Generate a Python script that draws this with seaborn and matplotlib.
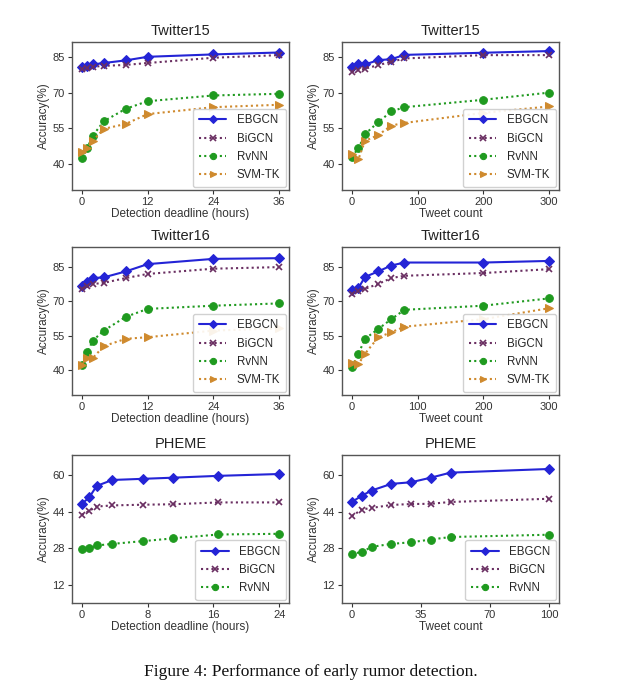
import matplotlib
matplotlib.use("Agg")
import matplotlib.pyplot as plt
import seaborn as sns

# ---------------- data ----------------
hours_tw = [0, 1, 2, 4, 8, 12, 24, 36]
count_tw = [0, 10, 20, 40, 60, 80, 200, 300]
hours_ph = [0, 0.9, 1.8, 3.7, 7.4, 11.1, 16.6, 24]
count_ph = [0, 5, 10, 20, 30, 40, 50, 100]

t15_time_ebgcn = [80.8, 81.2, 81.8, 82.4, 83.5, 85.0, 86.0, 86.8]
t15_time_bigcn = [80.0, 80.3, 80.8, 81.2, 81.6, 82.4, 84.6, 85.7]
t15_time_rvnn = [42.5, 46.8, 52.0, 58.0, 63.2, 66.4, 68.8, 69.5]
t15_time_svmtk = [45.0, 46.8, 49.8, 54.8, 56.9, 61.0, 63.9, 64.9]

t15_cnt_ebgcn = [80.8, 81.8, 81.8, 83.6, 84.0, 85.8, 86.7, 87.4]
t15_cnt_bigcn = [78.7, 79.4, 80.0, 81.5, 82.9, 84.3, 85.7, 85.7]
t15_cnt_rvnn = [43.1, 46.7, 52.6, 57.6, 62.1, 63.9, 67.0, 70.0]
t15_cnt_svmtk = [44.2, 42.1, 49.8, 52.2, 56.2, 57.3, 61.5, 64.2]

t16_time_ebgcn = [76.6, 78.5, 80.2, 80.5, 83.1, 86.3, 88.6, 88.9]
t16_time_bigcn = [75.6, 76.6, 77.6, 78.1, 80.2, 82.0, 84.3, 85.0]
t16_time_rvnn = [42.3, 47.8, 52.8, 57.2, 63.2, 66.7, 68.1, 69.1]
t16_time_svmtk = [42.3, 45.2, 45.2, 50.4, 53.6, 54.3, 57.2, 58.2]

t16_cnt_ebgcn = [74.8, 75.9, 80.7, 83.1, 85.7, 87.0, 87.0, 87.7]
t16_cnt_bigcn = [73.3, 74.5, 75.5, 77.6, 80.2, 81.2, 82.4, 84.1]
t16_cnt_rvnn = [41.3, 47.1, 53.6, 57.9, 62.2, 66.3, 68.1, 71.3]
t16_cnt_svmtk = [43.0, 42.5, 47.1, 54.2, 56.5, 58.9, 62.2, 67.0]

ph_time_ebgcn = [47.4, 50.2, 55.2, 57.8, 58.3, 58.8, 59.6, 60.4]
ph_time_bigcn = [42.6, 44.3, 46.2, 46.7, 47.0, 47.2, 48.0, 48.0]
ph_time_rvnn = [27.5, 27.9, 29.2, 29.9, 31.1, 32.3, 34.0, 34.3]

ph_cnt_ebgcn = [48.2, 50.9, 53.2, 56.1, 56.8, 58.8, 61.0, 62.6]
ph_cnt_bigcn = [42.0, 44.9, 45.6, 46.9, 47.3, 47.4, 48.2, 49.6]
ph_cnt_rvnn = [25.6, 26.3, 28.6, 29.9, 30.6, 31.8, 32.9, 33.9]

methods = ["EBGCN", "BiGCN", "RvNN", "SVM-TK"]
titles = ["Twitter15", "Twitter16", "PHEME"]
xlabel_time = "Detection deadline (hours)"
xlabel_cnt = "Tweet count"
ylabel = "Accuracy(%)"
caption = "Figure 4: Performance of early rumor detection."

tw_yticks = [40, 55, 70, 85]
ph_yticks = [12, 28, 44, 60]
time_xticks_tw = [0, 12, 24, 36]
cnt_xticks_tw = [0, 100, 200, 300]
time_xticks_ph = [0, 8, 16, 24]
cnt_xticks_ph = [0, 35, 70, 100]

# ---------------- style ----------------
sns.set_theme(style="ticks")
plt.rcParams["font.family"] = ["Liberation Sans", "DejaVu Sans"]

colors = {"EBGCN": "#2424d6", "BiGCN": "#6a2f62", "RvNN": "#1f9a1f", "SVM-TK": "#cf8a2e"}
styles = {
    "EBGCN": dict(marker="D", linestyle="-", linewidth=1.5, markersize=5.5),
    "BiGCN": dict(marker="x", linestyle=(0, (1, 1.5)), linewidth=1.5, markersize=5, markeredgewidth=1.2),
    "RvNN": dict(marker="o", linestyle=(0, (1, 1.5)), linewidth=1.5, markersize=5.5),
    "SVM-TK": dict(marker=">", linestyle=(0, (1, 1.5)), linewidth=1.5, markersize=5.5),
}

fig = plt.figure(figsize=(6.22, 6.9), dpi=100)

lefts = [72 / 622, 342 / 622]
width = 217 / 622
tops = [42, 247, 455]
height_px = 148

panels = [
    (titles[0], hours_tw, [t15_time_ebgcn, t15_time_bigcn, t15_time_rvnn, t15_time_svmtk], xlabel_time, time_xticks_tw, tw_yticks, (29.2, 91.2)),
    (titles[0], count_tw, [t15_cnt_ebgcn, t15_cnt_bigcn, t15_cnt_rvnn, t15_cnt_svmtk], xlabel_cnt, cnt_xticks_tw, tw_yticks, (29.2, 91.2)),
    (titles[1], hours_tw, [t16_time_ebgcn, t16_time_bigcn, t16_time_rvnn, t16_time_svmtk], xlabel_time, time_xticks_tw, tw_yticks, (29.0, 93.8)),
    (titles[1], count_tw, [t16_cnt_ebgcn, t16_cnt_bigcn, t16_cnt_rvnn, t16_cnt_svmtk], xlabel_cnt, cnt_xticks_tw, tw_yticks, (29.0, 93.8)),
    (titles[2], hours_ph, [ph_time_ebgcn, ph_time_bigcn, ph_time_rvnn], xlabel_time, time_xticks_ph, ph_yticks, (4.1, 68.7)),
    (titles[2], count_ph, [ph_cnt_ebgcn, ph_cnt_bigcn, ph_cnt_rvnn], xlabel_cnt, cnt_xticks_ph, ph_yticks, (4.1, 68.7)),
]

for i, (title, xs, series, xlabel, xticks, yticks, ylim) in enumerate(panels):
    row, col = divmod(i, 2)
    top = tops[row]
    ax = fig.add_axes([lefts[col], 1 - (top + height_px) / 690, width, height_px / 690])
    for name, ys in zip(methods, series):
        c = colors[name]
        sns.lineplot(x=xs, y=ys, ax=ax, label=name, color=c,
                     markeredgecolor=c, markerfacecolor=c, **styles[name])
    ax.set_ylim(*ylim)
    ax.set_xticks(xticks)
    ax.set_yticks(yticks)
    ax.set_title(title, fontsize=10.5, color="#222222", pad=5)
    ax.set_xlabel(xlabel, fontsize=8.5, color="#333333", labelpad=1)
    ax.set_ylabel(ylabel, fontsize=8.5, color="#333333", labelpad=2)
    ax.tick_params(axis="both", labelsize=8, colors="#333333", length=3, width=0.8, direction="out", pad=2)
    for sp in ax.spines.values():
        sp.set_color("#555555")
        sp.set_linewidth(1.0)
    leg = ax.legend(loc="lower right", fontsize=8.3, frameon=True, handlelength=2.4,
                    borderpad=0.5, labelspacing=0.55, handletextpad=0.9, borderaxespad=0.25)
    leg.get_frame().set_edgecolor("#cccccc")
    leg.get_frame().set_alpha(0.9)
    for h in leg.get_lines():
        h.set_markersize(4.5)

fig.text(0.5, 1 - 672 / 690, caption, ha="center", va="center", fontsize=12.5,
         family=["Liberation Serif", "DejaVu Serif"], color="#111111")

fig.savefig("out.png", dpi=100)
